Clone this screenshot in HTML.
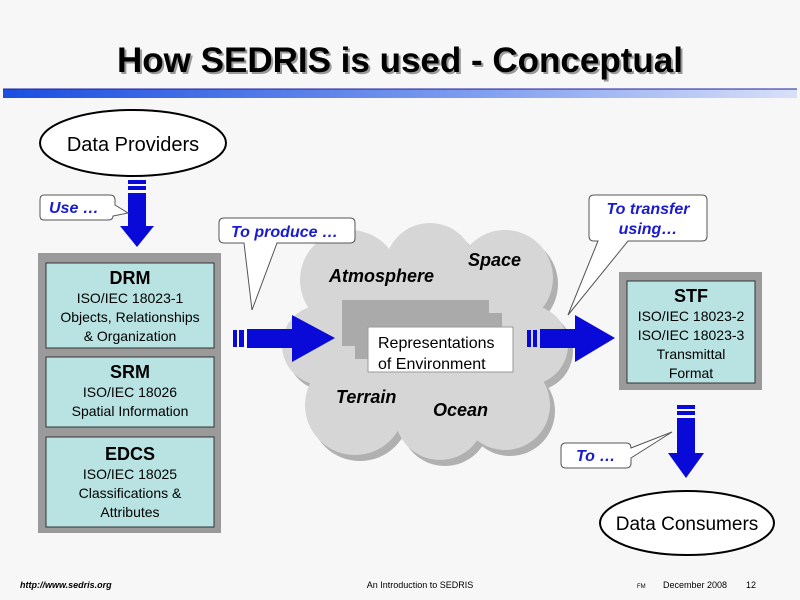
<!DOCTYPE html>
<html><head><style>body{margin:0;background:#f7f7f7}svg{display:block}</style></head><body>
<svg width="800" height="600" viewBox="0 0 800 600" font-family="Liberation Sans, sans-serif">
<defs>
<linearGradient id="bar" x1="0" x2="1"><stop offset="0" stop-color="#1a4fe0"/><stop offset="0.6" stop-color="#7f9ef0"/><stop offset="1" stop-color="#d8e0f8"/></linearGradient>
</defs>
<rect width="800" height="600" fill="#f7f7f7"/>
<text x="402" y="74" font-size="35" font-weight="bold" text-anchor="middle" fill="#999">How SEDRIS is used - Conceptual</text>
<text x="400" y="72" font-size="35" font-weight="bold" text-anchor="middle" fill="#000">How SEDRIS is used - Conceptual</text>
<rect x="3" y="89" width="794" height="9" fill="url(#bar)"/>
<line x1="3" y1="89" x2="797" y2="89" stroke="#2020a0" stroke-width="1"/>
<ellipse cx="133" cy="143" rx="93" ry="33" fill="#fff" stroke="#000" stroke-width="2"/>
<text x="133" y="151" font-size="20" text-anchor="middle">Data Providers</text>
<g fill="#0a0ad8"><rect x="128" y="180" width="18" height="4"/><rect x="128" y="186" width="18" height="4"/><rect x="128" y="193" width="18" height="33"/><polygon points="120,226 154,226 137,247"/></g>
<path d="M44,195 H110 Q115,195 115,200 V205 L128,213 L113,216 V216 Q113,220 108,220 H44 Q40,220 40,216 V200 Q40,195 44,195Z" fill="#fff" stroke="#555"/>
<text x="49" y="213" font-size="16" font-weight="bold" font-style="italic" fill="#1a1ad0">Use …</text>
<rect x="38" y="253" width="183" height="280" fill="#9a9a9a"/>
<g fill="#b9e3e3" stroke="#333"><rect x="46" y="263" width="168" height="85"/><rect x="46" y="357" width="168" height="70"/><rect x="46" y="437" width="168" height="90"/></g>
<g text-anchor="middle" font-size="14"><text x="130" y="284" font-size="18" font-weight="bold">DRM</text><text x="130" y="303">ISO/IEC 18023-1</text><text x="130" y="322">Objects, Relationships</text><text x="130" y="341">&amp; Organization</text>
<text x="130" y="378" font-size="18" font-weight="bold">SRM</text><text x="130" y="397">ISO/IEC 18026</text><text x="130" y="416">Spatial Information</text>
<text x="130" y="460" font-size="18" font-weight="bold">EDCS</text><text x="130" y="479">ISO/IEC 18025</text><text x="130" y="498">Classifications &amp;</text><text x="130" y="517">Attributes</text></g>
<g fill="#b0b0b0" transform="translate(5,6)"><circle cx="350" cy="280" r="50"/><circle cx="430" cy="268" r="45"/><circle cx="505" cy="278" r="48"/><circle cx="528" cy="345" r="40"/><circle cx="505" cy="405" r="45"/><circle cx="440" cy="415" r="45"/><circle cx="355" cy="405" r="50"/><circle cx="322" cy="345" r="40"/><rect x="330" y="280" width="200" height="130"/></g>
<g fill="#d6d6d6"><circle cx="350" cy="280" r="50"/><circle cx="430" cy="268" r="45"/><circle cx="505" cy="278" r="48"/><circle cx="528" cy="345" r="40"/><circle cx="505" cy="405" r="45"/><circle cx="440" cy="415" r="45"/><circle cx="355" cy="405" r="50"/><circle cx="322" cy="345" r="40"/></g>
<rect x="330" y="280" width="200" height="130" fill="#d6d6d6"/>
<g font-size="18" font-weight="bold" font-style="italic"><text x="329" y="282">Atmosphere</text><text x="468" y="266">Space</text><text x="336" y="403">Terrain</text><text x="433" y="416">Ocean</text></g>
<rect x="342" y="300" width="147" height="46" fill="#aaa"/>
<rect x="355" y="313" width="147" height="46" fill="#aaa"/>
<rect x="368" y="327" width="145" height="45" fill="#fff" stroke="#999"/>
<g font-size="16"><text x="378" y="348">Representations</text><text x="378" y="369">of Environment</text></g>
<g fill="#0a0ad8"><rect x="233" y="330" width="4" height="17"/><rect x="239" y="330" width="5" height="17"/><rect x="247" y="329" width="45" height="19"/><polygon points="292,315 292,362 335,338"/></g>
<path d="M224,218 H350 Q355,218 355,223 V238 Q355,243 350,243 H277 L252,310 L244,243 H224 Q219,243 219,238 V223 Q219,218 224,218Z" fill="#fff" stroke="#555"/>
<text x="231" y="237" font-size="16" font-weight="bold" font-style="italic" fill="#1a1ad0">To produce …</text>
<g fill="#0a0ad8"><rect x="527" y="330" width="4" height="17"/><rect x="533" y="330" width="4" height="17"/><rect x="540" y="329" width="35" height="19"/><polygon points="575,315 575,362 615,338"/></g>
<path d="M594,195 H702 Q707,195 707,200 V236 Q707,241 702,241 H628 L568,315 L598,241 H594 Q589,241 589,236 V200 Q589,195 594,195Z" fill="#fff" stroke="#555"/>
<g font-size="16" font-weight="bold" font-style="italic" fill="#1a1ad0" text-anchor="middle"><text x="648" y="214">To transfer</text><text x="648" y="234">using…</text></g>
<rect x="619" y="272" width="143" height="118" fill="#9a9a9a"/>
<rect x="627" y="281" width="128" height="102" fill="#b9e3e3" stroke="#333"/>
<g text-anchor="middle" font-size="14"><text x="691" y="302" font-size="18" font-weight="bold">STF</text><text x="691" y="321">ISO/IEC 18023-2</text><text x="691" y="340">ISO/IEC 18023-3</text><text x="691" y="359">Transmittal</text><text x="691" y="378">Format</text></g>
<g fill="#0a0ad8"><rect x="677" y="405" width="18" height="4"/><rect x="677" y="411" width="18" height="4"/><rect x="677" y="418" width="18" height="35"/><polygon points="668,453 704,453 686,478"/></g>
<path d="M566,443 H626 Q631,443 631,448 L672,432 L631,458 V463 Q631,468 626,468 H566 Q561,468 561,463 V448 Q561,443 566,443Z" fill="#fff" stroke="#555"/>
<text x="576" y="461" font-size="16" font-weight="bold" font-style="italic" fill="#1a1ad0">To …</text>
<ellipse cx="687" cy="523" rx="87" ry="32" fill="#fff" stroke="#000" stroke-width="2"/>
<text x="687" y="530" font-size="19" text-anchor="middle">Data Consumers</text>
<text x="20" y="588" font-size="9" font-weight="bold" font-style="italic">http://www.sedris.org</text>
<text x="420" y="588" font-size="9" text-anchor="middle">An Introduction to SEDRIS</text>
<text x="637" y="588" font-size="6">FM</text>
<text x="663" y="588" font-size="9">December 2008</text>
<text x="746" y="588" font-size="9">12</text>
</svg>
</body></html>
